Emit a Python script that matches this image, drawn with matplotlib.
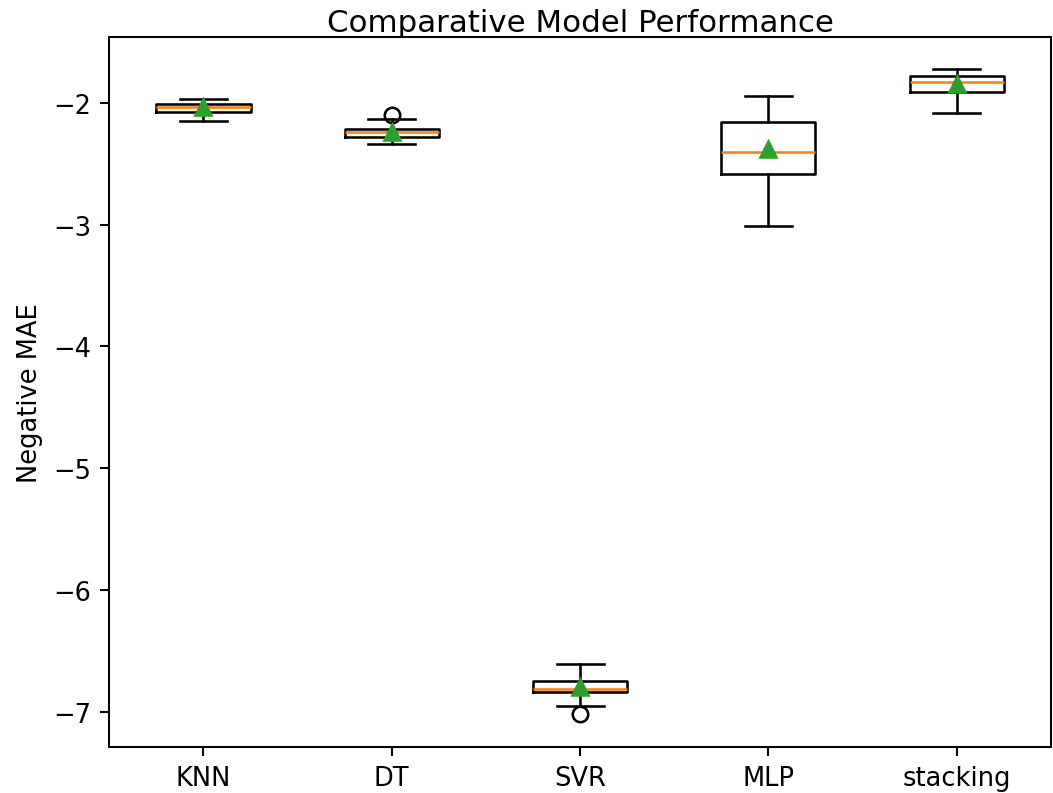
import matplotlib
matplotlib.use('Agg')
import matplotlib.pyplot as plt

names = ['KNN', 'DT', 'SVR', 'MLP', 'stacking']
whislo = [-2.15, -2.34, -6.95, -3.01, -2.08]
q1 = [-2.07, -2.28, -6.84, -2.58, -1.91]
med = [-2.03, -2.24, -6.81, -2.40, -1.83]
q3 = [-2.01, -2.21, -6.75, -2.16, -1.78]
whishi = [-1.97, -2.13, -6.61, -1.94, -1.72]
means = [-2.03, -2.24, -6.80, -2.38, -1.84]
fliers = [[], [-2.10], [-7.02], [], []]

stats = []
for i in range(len(names)):
    stats.append({'label': names[i], 'whislo': whislo[i], 'q1': q1[i],
                  'med': med[i], 'q3': q3[i], 'whishi': whishi[i],
                  'mean': means[i], 'fliers': fliers[i]})

dpi = 185
fig = plt.figure(figsize=(1053 / dpi, 794 / dpi), dpi=dpi)
ax = fig.add_axes([0.1038, 0.0579, 0.8942, 0.8939])
ax.bxp(stats, showmeans=True)
ax.set_ylabel('Negative MAE')
ax.set_title('Comparative Model Performance', pad=2.5)
ax.set_ylim(-7.29, -1.46)

fig.savefig('out.png', dpi=dpi)
